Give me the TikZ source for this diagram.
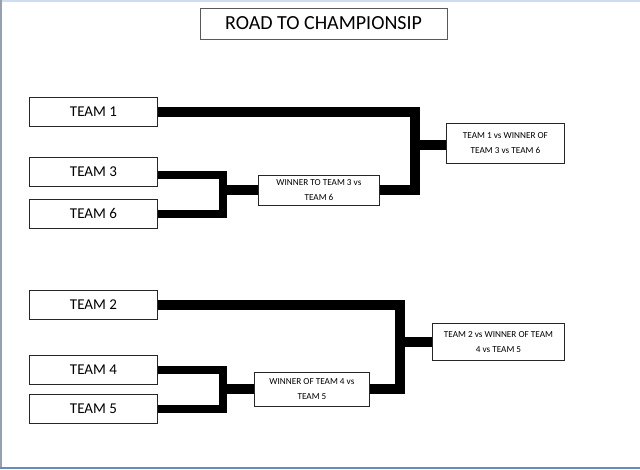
\documentclass[tikz,border=0pt]{standalone}
\usepackage{fontspec}
\setmainfont{Carlito}
\usetikzlibrary{shadows}
\definecolor{frameblue}{RGB}{100,140,190}
\definecolor{framelight}{RGB}{205,220,240}
\definecolor{framegray}{RGB}{150,160,175}
\tikzset{
  boxbase/.style={draw=black!85, line width=0.9pt, fill=white, inner sep=0pt, anchor=north west,
    drop shadow={shadow xshift=1pt, shadow yshift=-1pt, fill=black!30, opacity=1}},
  teambox/.style={boxbase, minimum width=128pt, minimum height=29pt, font=\fontsize{15}{15}\selectfont},
  matchbox/.style={boxbase, align=center, font=\fontsize{9.2}{15}\selectfont},
  titlebox/.style={draw=black!65, line width=1.1pt, fill=white, inner sep=0pt, anchor=north west,
    minimum width=247pt, minimum height=31pt, font=\fontsize{20}{20}\selectfont},
  bigwire/.style={line width=10pt, line join=miter, line cap=butt},
  smallwire/.style={line width=7.5pt, line join=miter, line cap=butt},
}
\begin{document}
\begin{tikzpicture}[x=1pt,y=-1pt]
\useasboundingbox (0,0) rectangle (640,469);
% window frame
\fill[framelight] (0,0) rectangle (640,2);
\fill[framegray] (0,0) rectangle (2,469);
\fill[frameblue] (0,466.5) rectangle (640,469);

% junction coordinates
\coordinate (k1) at (223,189.5);
\coordinate (j1) at (414.5,145);
\coordinate (k2) at (223,388.5);
\coordinate (j2) at (400,342);

\node[titlebox] (title) at (199.5,7.5) {ROAD TO CHAMPIONSIP};

% teams
\node[teambox] (t1) at (29,97) {TEAM 1};
\node[teambox] (t3) at (29,157) {TEAM 3};
\node[teambox] (t6) at (29,199) {TEAM 6};
\node[teambox] (t2) at (29,290) {TEAM 2};
\node[teambox] (t4) at (29,355) {TEAM 4};
\node[teambox] (t5) at (29,394) {TEAM 5};

% semifinals
\node[matchbox, minimum width=121pt, minimum height=30pt] (s1) at (258,175)
  {WINNER TO TEAM 3 vs\\TEAM 6};
\node[matchbox, minimum width=115pt, minimum height=34pt] (s2) at (254,372)
  {WINNER OF TEAM 4 vs\\TEAM 5};

% finals
\node[matchbox, minimum width=118pt, minimum height=40pt] (f1) at (446,123)
  {TEAM 1 vs WINNER OF\\TEAM 3 vs TEAM 6};
\node[matchbox, minimum width=132pt, minimum height=37pt] (f2) at (432,323)
  {TEAM 2 vs WINNER OF TEAM\\4 vs TEAM 5};

% upper bracket
\draw[smallwire] ([yshift=-3pt]t3.east) -| (k1) |- (t6.east);
\draw[bigwire] (k1) -- (k1 -| s1.west);
\draw[bigwire] (t1.east) -| (j1) |- (k1 -| s1.east);
\draw[bigwire] (j1) -- (j1 -| f1.west);

% lower bracket
\draw[smallwire] (t4.east) -| (k2) |- (t5.east);
\draw[bigwire] (k2) -- (k2 -| s2.west);
\draw[bigwire] (t2.east) -| (j2) |- (k2 -| s2.east);
\draw[bigwire] (j2) -- (j2 -| f2.west);
\end{tikzpicture}
\end{document}
